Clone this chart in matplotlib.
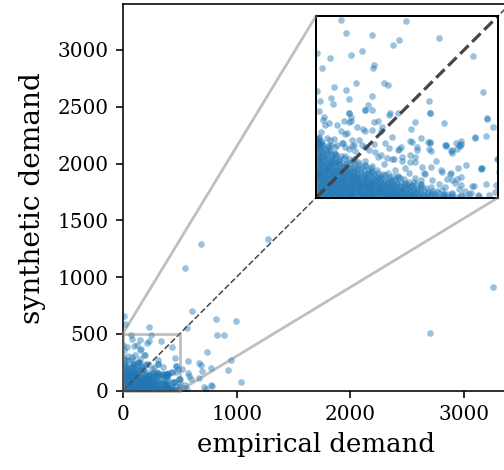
import numpy as np
import matplotlib
matplotlib.use("Agg")
import matplotlib.pyplot as plt
from matplotlib.patches import ConnectionPatch

plt.rcParams['font.family'] = ['DejaVu Serif']

# ---- data (empirical, synthetic) ----
core_low = [
    (2,2),(8,5),(14,1),(21,4),(27,2),(34,6),(40,1),(47,3),(53,5),(60,1),(66,4),(73,2),(79,6),(86,1),(92,3),(99,5),
    (105,2),(112,4),(118,1),(125,6),(131,3),(138,1),(144,5),(151,2),(157,4),(164,1),(170,6),(177,3),(183,1),(190,5),
    (196,2),(203,4),(209,1),(216,6),(222,3),(229,1),(235,5),(242,2),(248,4),(255,1),(261,6),(268,3),(275,1),(282,5),
    (289,2),(296,4),(304,1),(312,5),(320,2),(329,4),(338,1),(348,5),(359,2),(371,4),(384,1),(398,3),(412,2),
    (4,10),(11,13),(17,9),(24,12),(30,8),(37,11),(43,14),(50,9),(56,12),(63,8),(69,11),(76,13),(82,9),(89,12),
    (95,8),(102,11),(108,14),(115,9),(121,12),(128,8),(134,11),(141,13),(147,9),(154,12),(160,8),(167,11),(173,14),
    (180,9),(186,12),(193,8),(199,11),(206,13),(212,9),(219,12),(225,8),(232,11),(238,14),(245,9),(251,12),(258,8),
    (265,11),(272,13),(280,9),(288,12),(296,8),(305,11),(314,13),(324,9),(335,12),(347,8),(360,11),(374,9),
    (1,18),(7,21),(14,17),(20,20),(27,16),(33,19),(40,22),(46,17),(53,20),(59,16),(66,19),(72,21),(79,17),(85,20),
    (92,16),(98,19),(105,22),(111,17),(118,20),(124,16),(131,19),(137,21),(144,17),(150,20),(157,16),(163,19),
    (170,22),(176,17),(183,20),(189,16),(196,19),(202,21),(209,17),(215,20),(222,16),(229,19),(236,22),(243,17),
    (251,20),(259,16),(267,19),(276,21),(285,17),(295,20),(306,16),(318,19),(331,17),(345,20),
    (3,26),(10,29),(16,25),(23,28),(29,24),(36,27),(42,30),(49,25),(55,28),(62,24),(68,27),(75,29),(81,25),(88,28),
    (94,24),(101,27),(107,30),(114,25),(120,28),(127,24),(133,27),(140,29),(146,25),(153,28),(159,24),(166,27),
    (172,30),(179,25),(185,28),(192,24),(198,27),(205,29),(212,25),(219,28),(226,24),(234,27),(242,30),(250,25),
    (259,28),(268,24),(278,27),(289,29),(301,25),(314,28),
]

core_mid = [
    (1,34),(8,37),(14,33),(21,36),(27,32),(34,35),(40,38),(47,33),(53,36),(60,32),(66,35),(73,37),(79,33),(86,36),
    (92,32),(99,35),(105,38),(112,33),(118,36),(125,32),(131,35),(138,37),(144,33),(151,36),(157,32),(164,35),
    (170,38),(177,33),(184,36),(191,32),(198,35),(206,37),(214,33),(222,36),(231,32),(240,35),(250,38),(261,33),
    (273,36),(287,34),
    (4,42),(10,45),(17,41),(23,44),(30,40),(36,43),(43,46),(49,41),(56,44),(62,40),(69,43),(75,45),(82,41),(88,44),
    (95,40),(101,43),(108,46),(114,41),(121,44),(127,40),(134,43),(140,45),(147,41),(153,44),(160,40),(167,43),
    (174,46),(181,41),(189,44),(197,40),(205,43),(214,45),(223,41),(233,44),(244,40),(256,43),(269,42),
    (2,50),(9,53),(15,49),(22,52),(28,48),(35,51),(41,54),(48,49),(54,52),(61,48),(67,51),(74,53),(80,49),(87,52),
    (93,48),(100,51),(106,54),(113,49),(119,52),(126,48),(133,51),(140,53),(147,49),(154,52),(162,48),(170,51),
    (178,54),(187,49),(196,52),(206,48),(217,51),(229,53),(242,50),
    (5,58),(11,61),(18,57),(24,60),(31,56),(37,59),(44,62),(50,57),(57,60),(63,56),(70,59),(76,61),(83,57),(89,60),
    (96,56),(102,59),(109,62),(116,57),(123,60),(130,56),(137,59),(145,61),(153,57),(161,60),(170,56),(179,59),
    (189,62),(200,57),(212,60),(225,58),
    (1,66),(8,69),(14,65),(21,68),(27,64),(34,67),(40,70),(47,65),(53,68),(60,64),(66,67),(73,69),(80,65),(87,68),
    (94,64),(101,67),(108,70),(116,65),(124,68),(132,64),(141,67),(150,69),(160,65),(171,68),(183,64),(196,67),
]

core_high = [
    (4,74),(10,77),(17,73),(23,76),(30,72),(36,75),(43,78),(50,73),(57,76),(64,72),(71,75),(78,77),(86,73),(94,76),
    (102,72),(111,75),(120,78),(130,73),(141,76),(153,72),(166,75),
    (2,82),(9,85),(15,81),(22,84),(29,80),(36,83),(43,86),(50,81),(58,84),(66,80),(74,83),(83,85),(92,81),(102,84),
    (113,80),(125,83),(138,86),(151,82),
    (5,90),(11,93),(18,89),(25,92),(32,88),(39,91),(47,94),(55,89),(64,92),(73,88),(83,91),(94,93),(106,89),
    (119,92),(133,90),
    (1,98),(8,101),(15,97),(22,100),(29,96),(37,99),(45,102),(54,97),(64,100),(75,96),(87,99),(100,101),(114,98),
    (4,106),(11,109),(18,105),(26,108),(34,104),(43,107),(53,110),(64,105),(76,108),(90,106),
    (2,114),(9,117),(16,113),(24,116),(33,112),(43,115),(55,118),(68,114),
    (5,122),(12,125),(20,121),(29,124),(40,120),(53,123),
    (1,130),(8,133),(16,129),(26,132),(38,130),
    (4,138),(12,141),(22,137),(33,140),
    (2,146),(9,149),(19,145),
    (5,154),(13,157),
    (2,162),(8,165),
]

fringe = [
    (17,149),(41,144),(71,151),(89,135),(105,146),(135,140),(162,125),(178,116),(195,109),(213,105),(232,140),
    (235,102),(259,116),(263,153),(272,98),(276,131),(290,85),(312,149),(314,129),(245,80),(254,67),(217,76),
    (186,92),(135,102),(153,87),(105,105),(80,114),(52,120),(34,129),(61,98),(226,56),(272,54),(300,65),(318,47),
    (287,38),(263,34),(336,36),(355,28),(382,41),(391,23),(373,12),(408,19),(428,32),(351,10),(397,6),(474,8),
    (466,38),(411,89),(455,80),(329,100),(345,70),(367,65),(397,57),(373,48),(424,12),(446,4),(492,14),(389,81),
    (373,123),(357,142),(397,148),(296,67),(287,49),(314,84),(342,76),(369,67),(360,52),(387,52),(397,34),(434,31),
    (420,10),(445,8),(495,34),(278,140),(272,113),(259,97),(259,155),(312,153),(311,133),(356,144),(371,127),
    (387,133),(393,144),(398,155),(437,164),(466,169),(453,80),(499,105),
    (89,232),(135,241),(36,206),(19,213),(58,199),(91,209),(160,209),(113,193),(135,184),(80,176),(180,195),
    (204,233),(224,233),(38,158),(98,158),(52,140),(74,149),(126,145),(160,147),(190,151),(208,168),(226,131),
    (171,113),(144,131),(107,129),(208,105),(235,113),(14,180),(6,157),(312,233),(272,208),(351,206),(468,217),
    (486,193),
]

sparse = [
    (69,488),(247,486),(82,453),(154,448),(336,440),(227,434),(210,420),(2,399),(125,402),(95,391),(37,384),
    (430,389),(158,364),(155,356),(15,356),(110,316),(185,314),(197,311),(48,305),(2,294),(82,296),(457,291),
    (152,280),(42,274),(90,271),(309,267),(11,267),(46,258),(9,239),(143,254),(134,241),(154,241),(312,234),
    (91,234),(95,223),(22,223),(201,228),(470,219),(97,212),(77,210),(170,210),(24,201),(128,188),(154,185),
    (260,188),(68,183),(179,183),(86,177),(435,166),(7,166),(29,163),(49,161),(117,159),(289,163),(307,154),
    (355,144),(384,150),(395,141),(201,137),(227,135),(99,141),(79,139),(9,144),(58,144),(35,144),(373,130),
    (497,106),(453,79),(4,62),
]

outliers = [
    (690,1291),(547,1080),(1277,1334),(998,616),(612,699),(821,634),(826,493),(890,493),(740,341),(955,270),
    (925,185),(1040,80),(773,200),(670,241),(690,229),(571,259),(518,188),(577,153),(600,106),(670,112),
    (506,100),(694,171),(776,48),(717,30),(729,12),(547,48),(536,24),(565,18),(501,70),(2700,505),(3257,916),
    (565,552),(234,563),(9,660),(20,585),(785,44),(585,129),
]

x_ticks = [0, 1000, 2000, 3000]
y_ticks = [0, 500, 1000, 1500, 2000, 2500, 3000]
axis_max = 3400
zoom_max = 500

pts = np.array(core_low + core_mid + core_high + fringe + sparse + outliers, dtype=float)
empirical = pts[:, 0]
synthetic = pts[:, 1]

fig = plt.figure(figsize=(504/144, 470/144), dpi=144)
ax = fig.add_axes([122.7/504, (470-390.7)/470, 3400*0.1138/504, 3400*0.1136/470])

kw = dict(s=11, color='#1f77b4', alpha=0.45, linewidths=0)
ax.scatter(empirical, synthetic, **kw)
ax.plot([0, axis_max], [0, axis_max], ls='--', color='0.3', lw=0.8)
ax.set_xlim(0, axis_max)
ax.set_ylim(0, axis_max)
ax.set_xticks(x_ticks)
ax.set_yticks(y_ticks)
ax.tick_params(labelsize=10)
ax.set_xlabel('empirical demand', fontsize=13)
ax.set_ylabel('synthetic demand', fontsize=14, labelpad=6)

axins = ax.inset_axes([1700, 1700, 1600, 1600], transform=ax.transData)
axins.scatter(empirical, synthetic, **kw)
axins.plot([0, zoom_max], [0, zoom_max], ls='--', color='0.27', lw=1.6)
axins.set_xlim(0, zoom_max)
axins.set_ylim(0, zoom_max)
axins.set_xticks([])
axins.set_yticks([])
for sp in axins.spines.values():
    sp.set_linewidth(1.0)
ax.indicate_inset(bounds=[0, 0, zoom_max, zoom_max], edgecolor='0.5', alpha=0.5, lw=1.4)

for corner in [(0, zoom_max), (zoom_max, 0)]:
    con = ConnectionPatch(xyA=corner, coordsA=ax.transData, xyB=corner, coordsB=axins.transData,
                          color='0.5', alpha=0.5, lw=1.4, zorder=4.99)
    fig.add_artist(con)

fig.savefig('out.png', dpi=144)
